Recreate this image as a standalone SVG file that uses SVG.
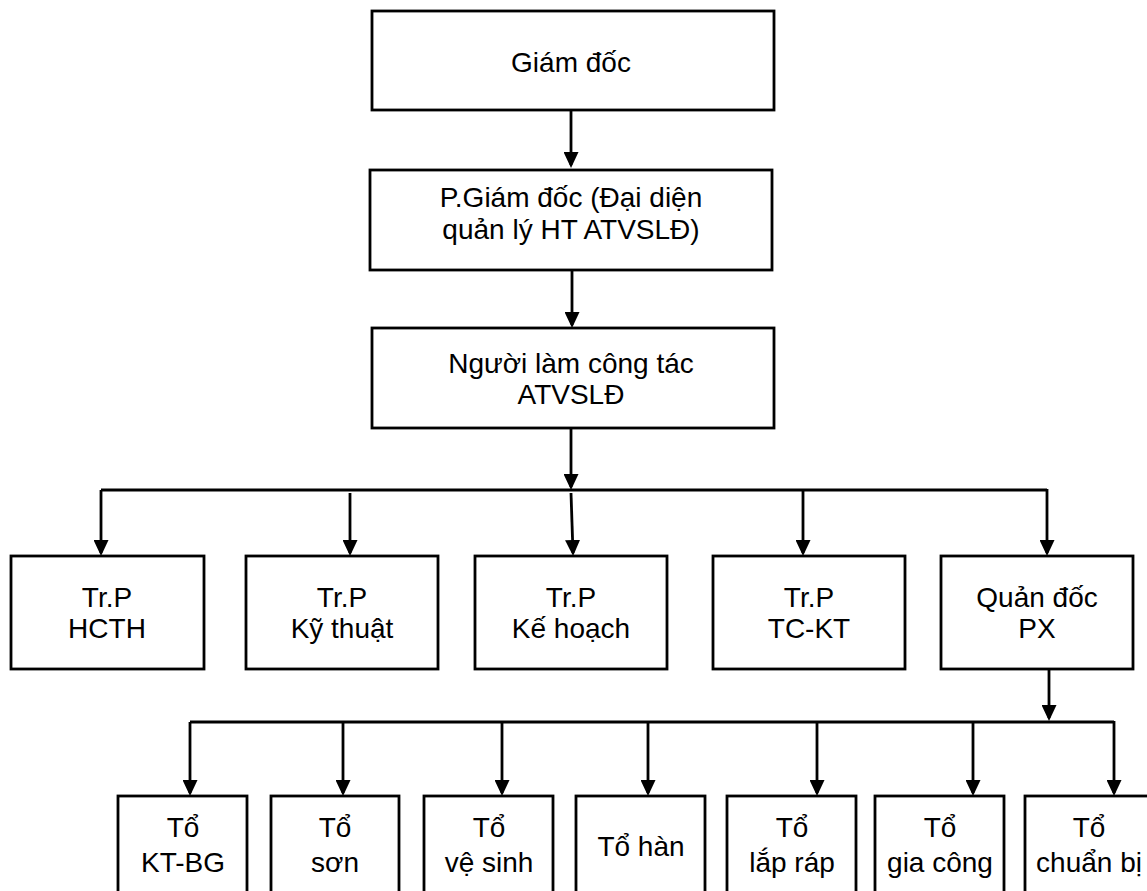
<svg xmlns="http://www.w3.org/2000/svg" width="1147" height="891" viewBox="0 0 1147 891">
<style>
.box{fill:#fff;stroke:#000;stroke-width:2.8}
.t{font-family:"Liberation Sans",Arial,sans-serif;font-size:28px;fill:#000;text-anchor:middle}
.c{fill:none;stroke:#000;stroke-width:2.8}
.a{marker-end:url(#ah)}
</style>
<defs>
<marker id="ah" viewBox="0 0 16 15" refX="13" refY="7.5" markerWidth="16" markerHeight="15" orient="auto" markerUnits="userSpaceOnUse">
<path d="M0,0 L16,7.5 L0,15 z" fill="#000"/>
</marker>
</defs>
<rect width="1147" height="891" fill="#fff"/>
<g id="connectors">
<line class="c a" x1="571" y1="110" x2="571" y2="165"/>
<line class="c a" x1="572" y1="270" x2="572" y2="325"/>
<line class="c a" x1="571" y1="428" x2="571" y2="487"/>
<polyline class="c" points="101,490 1047,490"/>
<line class="c a" x1="101" y1="490" x2="101" y2="553"/>
<line class="c a" x1="350" y1="493" x2="350" y2="553"/>
<line class="c a" x1="571" y1="493" x2="573" y2="553"/>
<line class="c a" x1="803" y1="490" x2="803" y2="553"/>
<line class="c a" x1="1047" y1="489" x2="1047" y2="553"/>
<line class="c a" x1="1049" y1="669" x2="1049" y2="718"/>
<polyline class="c" points="190,722 1114,722"/>
<line class="c a" x1="190" y1="722" x2="190" y2="793"/>
<line class="c a" x1="343" y1="722" x2="343" y2="793"/>
<line class="c a" x1="502" y1="722" x2="502" y2="793"/>
<line class="c a" x1="648" y1="722" x2="648" y2="793"/>
<line class="c a" x1="817" y1="722" x2="817" y2="793"/>
<line class="c a" x1="973" y1="722" x2="973" y2="793"/>
<line class="c a" x1="1114" y1="721" x2="1114" y2="793"/>
</g>
<g id="giam-doc">
<rect class="box" x="372" y="11" width="402" height="99"/>
<text class="t" x="571" y="72">Giám đốc</text>
</g>
<g id="pho-giam-doc">
<rect class="box" x="370" y="170" width="402" height="100"/>
<text class="t" x="571" y="207">P.Giám đốc (Đại diện</text>
<text class="t" x="571" y="239">quản lý HT ATVSLĐ)</text>
</g>
<g id="nguoi-lam">
<rect class="box" x="372" y="328" width="402" height="100"/>
<text class="t" x="571" y="373">Người làm công tác</text>
<text class="t" x="571" y="404">ATVSLĐ</text>
</g>
<g id="hcth">
<rect class="box" x="11" y="556" width="193" height="113"/>
<text class="t" x="107" y="607">Tr.P</text>
<text class="t" x="107" y="638">HCTH</text>
</g>
<g id="ky-thuat">
<rect class="box" x="246" y="556" width="192" height="113"/>
<text class="t" x="342" y="607">Tr.P</text>
<text class="t" x="342" y="638">Kỹ thuật</text>
</g>
<g id="ke-hoach">
<rect class="box" x="475" y="556" width="192" height="113"/>
<text class="t" x="571" y="607">Tr.P</text>
<text class="t" x="571" y="638">Kế hoạch</text>
</g>
<g id="tc-kt">
<rect class="box" x="713" y="556" width="192" height="113"/>
<text class="t" x="809" y="607">Tr.P</text>
<text class="t" x="809" y="638">TC-KT</text>
</g>
<g id="quan-doc">
<rect class="box" x="941" y="556" width="192" height="113"/>
<text class="t" x="1037" y="607">Quản đốc</text>
<text class="t" x="1037" y="638">PX</text>
</g>
<g id="to-kt-bg">
<rect class="box" x="118" y="796" width="129" height="110"/>
<text class="t" x="183" y="837">Tổ</text>
<text class="t" x="183" y="872">KT-BG</text>
</g>
<g id="to-son">
<rect class="box" x="271" y="796" width="128" height="110"/>
<text class="t" x="335" y="837">Tổ</text>
<text class="t" x="335" y="872">sơn</text>
</g>
<g id="to-ve-sinh">
<rect class="box" x="424" y="796" width="129" height="110"/>
<text class="t" x="489" y="837">Tổ</text>
<text class="t" x="489" y="872">vệ sinh</text>
</g>
<g id="to-han">
<rect class="box" x="576" y="796" width="129" height="110"/>
<text class="t" x="641" y="856">Tổ hàn</text>
</g>
<g id="to-lap-rap">
<rect class="box" x="727" y="796" width="129" height="110"/>
<text class="t" x="792" y="837">Tổ</text>
<text class="t" x="792" y="872">lắp ráp</text>
</g>
<g id="to-gia-cong">
<rect class="box" x="875" y="796" width="129" height="110"/>
<text class="t" x="940" y="837">Tổ</text>
<text class="t" x="940" y="872">gia công</text>
</g>
<g id="to-chuan-bi">
<rect class="box" x="1025" y="796" width="129" height="110"/>
<text class="t" x="1089" y="837">Tổ</text>
<text class="t" x="1089" y="872">chuẩn bị</text>
</g>
</svg>
